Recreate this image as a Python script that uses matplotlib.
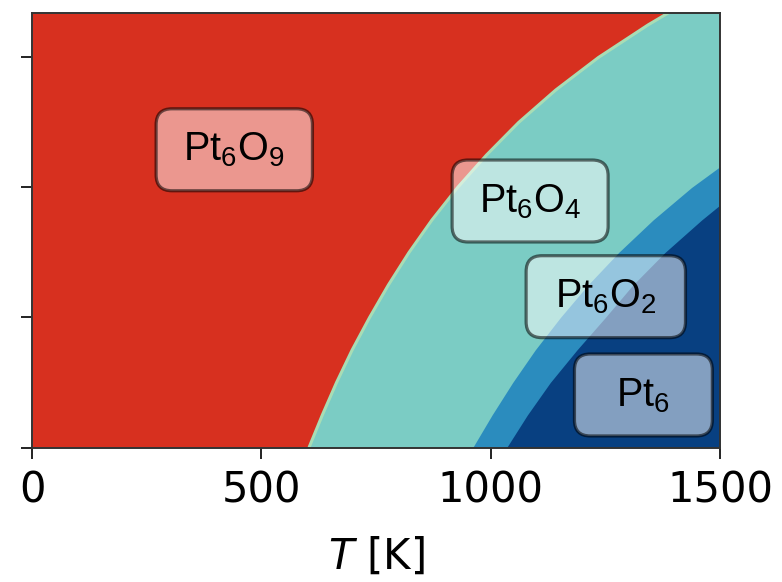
import matplotlib
matplotlib.use("Agg")
import matplotlib.pyplot as plt
from matplotlib.patches import BoxStyle

plt.rcParams["font.family"] = ["DejaVu Sans"]
plt.rcParams["mathtext.fontset"] = "custom"
plt.rcParams["mathtext.rm"] = "Liberation Sans"
plt.rcParams["mathtext.it"] = "Liberation Sans:italic"
plt.rcParams["mathtext.bf"] = "Liberation Sans:bold"
plt.rcParams["mathtext.default"] = "rm"

# ---- data ----
# x axis: temperature T [K]; y axis: unlabeled (tick units)
x_ticks = [0, 500, 1000, 1500]
y_ticks = [0, 1, 2, 3]
T_range = [0, 1500]
y_range = [0, 3.342]

# Pt6O9 | Pt6O4 boundary
b1_y = [0.00, 0.25, 0.50, 0.75, 1.00, 1.25, 1.50, 1.75, 2.00, 2.25, 2.50, 2.75, 3.00, 3.25, 3.342]
b1_T = [604, 633, 664, 698, 736, 777, 822, 872, 928, 991, 1061, 1142, 1235, 1343, 1387]
# Pt6O4 | Pt6O2 boundary
b2_y = [0.00, 0.25, 0.50, 0.75, 1.00, 1.25, 1.50, 1.75, 2.00, 2.16]
b2_T = [961, 1003, 1048, 1097, 1152, 1212, 1279, 1354, 1438, 1500]
# Pt6O2 | Pt6 boundary
b3_y = [0.00, 0.25, 0.50, 0.75, 1.00, 1.25, 1.50, 1.75, 1.865]
b3_T = [1035, 1080, 1130, 1188, 1250, 1310, 1380, 1460, 1500]

phase_names = [r"$Pt_6O_9$", r"$Pt_6O_4$", r"$Pt_6O_2$", r"$Pt_6$"]

# ---- annotation placement / style ----
label_T = [441, 1086, 1251, 1333]
label_y = [2.29, 1.896, 1.16, 0.404]
label_extra_w = [0.16, 0.15, 0.2, 0.53]

red = "#d7301f"
teal = "#7bccc4"
mid = "#2b8cbe"
dark = "#084081"
line_green = "#a8ddb5"


class WideRound(BoxStyle.Round):
    """Rounded box with extra horizontal padding."""

    def __init__(self, pad=0.3, rounding_size=None, extra=0.0):
        super().__init__(pad=pad, rounding_size=rounding_size)
        self.extra = extra

    def __call__(self, x0, y0, width, height, mutation_size):
        e = self.extra * mutation_size
        return super().__call__(x0 - e, y0, width + 2 * e, height, mutation_size)


fig = plt.figure(figsize=(7.82, 5.82), dpi=100)
W, H = 782, 582
ax = fig.add_axes([32 / W, 1 - 447.5 / H, (720 - 32) / W, (447.5 - 13) / H])
ax.set_xlim(T_range)
ax.set_ylim(y_range)

ax.set_facecolor(teal)
ax.fill_betweenx(b1_y, T_range[0], b1_T, color=red, lw=0)
ax.fill_betweenx(b2_y, b2_T, T_range[1], color=mid, lw=0)
ax.fill_betweenx(b3_y, b3_T, T_range[1], color=dark, lw=0)
ax.plot(b1_T, b1_y, color=line_green, lw=2.2, solid_capstyle="butt")

for name, tx, ty, ex in zip(phase_names, label_T, label_y, label_extra_w):
    ax.text(tx, ty, name, ha="center", va="center", fontsize=28.5,
            color="black",
            bbox=dict(boxstyle=WideRound(pad=0.53, rounding_size=0.4, extra=ex),
                      facecolor=(1, 1, 1, 0.5), edgecolor=(0, 0, 0, 0.55),
                      linewidth=2.3))

ax.set_xticks(x_ticks)
ax.set_xticklabels([str(t) for t in x_ticks])
ax.set_yticks(y_ticks)
ax.set_yticklabels([])
ax.tick_params(axis="both", length=8, width=1.4, color="#222222",
               labelsize=30, pad=8)
for s in ax.spines.values():
    s.set_color("#333333")
    s.set_linewidth(1.4)
ax.set_xlabel(r"$\mathit{T}$ [K]", fontsize=30, math_fontfamily="dejavusans", labelpad=17)

fig.savefig("out.png", dpi=100)
